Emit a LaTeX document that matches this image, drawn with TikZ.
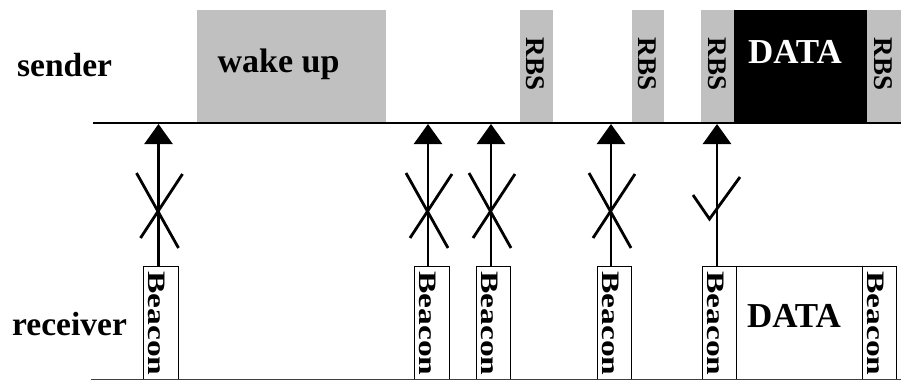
\documentclass[tikz,border=0pt]{standalone}
\usepackage{fontspec}
\setmainfont{Liberation Serif}
\usetikzlibrary{arrows.meta}
\definecolor{gbox}{HTML}{C0C0C0}
\tikzset{
  lbl/.style={font=\fontsize{33.5}{36}\selectfont\bfseries, inner sep=0},
  datalbl/.style={font=\fontsize{35}{38}\selectfont\bfseries, inner sep=0, anchor=base},
  gblock/.style={fill=gbox, inner sep=0, anchor=north west, minimum height=112pt},
  bblock/.style={draw=black, line width=1.2pt, inner sep=0, anchor=north west, minimum height=113pt},
  sig/.style={line width=2.5pt, -{Triangle[width=28pt,length=20pt]}},
  crossln/.style={line width=2.8pt},
  rbs/.style={font=\fontsize{27}{30}\selectfont\bfseries, rotate=-90, inner sep=0},
  bcn/.style={font=\fontsize{33.5}{36}\selectfont\bfseries, rotate=-90, inner sep=0},
}
\newcommand{\bcntext}{\scalebox{1}[0.75]{Beacon}}
\begin{document}
\begin{tikzpicture}[x=1pt,y=-1pt]
\useasboundingbox (0,0) rectangle (901,381);

% labels
\node[lbl, anchor=base west] (sender) at (17,76) {sender};
\node[lbl, anchor=base west] (receiver) at (12,335) {receiver};

% sender blocks
\node[gblock, minimum width=189pt] (wake) at (197,10) {};
\node[lbl, anchor=base, font=\fontsize{34}{36}\selectfont\bfseries] (wakel) at (278.5,72) {wake up};
\node[gblock, minimum width=33pt] (r1) at (520,10) {};
\node[gblock, minimum width=32pt] (r2) at (632,10) {};
\node[gblock, minimum width=33pt] (r3) at (701,10) {};
\node[gblock, minimum width=133pt, fill=black] (sdata) at (734,10) {};
\node[gblock, minimum width=34pt] (r4) at (867,10) {};
\node[rbs] (r1l) at (535.5,64) {RBS};
\node[rbs] (r2l) at (647,64) {RBS};
\node[rbs] (r3l) at (717,64) {RBS};
\node[rbs] (r4l) at (883,64) {RBS};
\node[datalbl, text=white] (sdatal) at (795,63) {DATA};

% sender line
\coordinate (sL) at (93,123);
\coordinate (sR) at (901,123);
\draw[line width=2pt] (sL) -- (sR);

% receiver blocks
\node[bblock, minimum width=35pt] (b1) at (143,266) {};
\node[bblock, minimum width=35pt] (b2) at (414,266) {};
\node[bblock, minimum width=34pt] (b3) at (476,266) {};
\node[bblock, minimum width=34pt] (b4) at (597,266) {};
\node[bblock, minimum width=34pt] (b5) at (702,266) {};
\node[bblock, minimum width=126pt] (rdata) at (736,266) {};
\node[bblock, minimum width=34pt] (b6) at (862,266) {};
\node[bcn] (b1l) at (156.5,323.5) {\bcntext};
\node[bcn] (b2l) at (427.5,323.5) {\bcntext};
\node[bcn] (b3l) at (489.5,323.5) {\bcntext};
\node[bcn] (b4l) at (610.5,323.5) {\bcntext};
\node[bcn] (b5l) at (715.5,323.5) {\bcntext};
\node[bcn] (b6l) at (875.5,323.5) {\bcntext};
\node[datalbl] (rdatal) at (794,327) {DATA};

% receiver line
\coordinate (rL) at (91,379.5);
\coordinate (rR) at (901,379.5);
\draw[line width=1.5pt, black!75] (rL) -- (rR);

% signals
\foreach \i/\x in {1/158.5, 2/428, 3/491, 4/611, 5/717} {
  \coordinate (t\i) at (\x,124);
  \draw[sig] (b\i.north -| t\i) -- (t\i);
}
% crosses
\foreach \x in {158.5, 428, 491, 611} {
  \draw[crossln] (\x-22,173) -- (\x+20,248);
  \draw[crossln] (\x+24,174) -- (\x-18,238);
}
% check mark
\draw[crossln] (693,195) -- (709.5,219) -- (740,177);
\end{tikzpicture}
\end{document}
